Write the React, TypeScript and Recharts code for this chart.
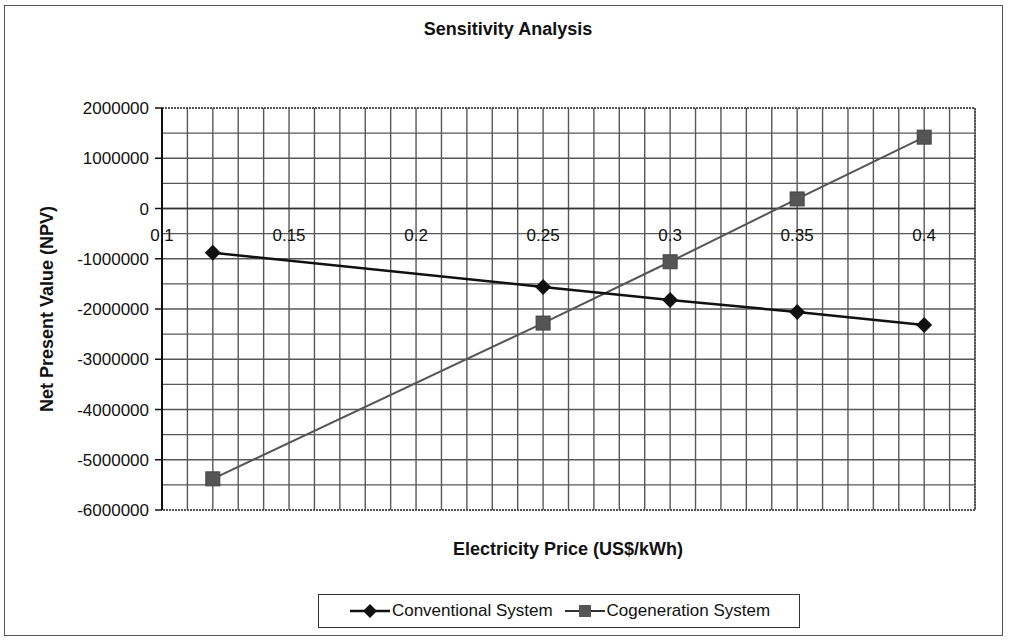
import React from "react";
import {
  CartesianGrid,
  Line,
  LineChart,
  ReferenceArea,
  ReferenceDot,
  ReferenceLine,
  XAxis,
  YAxis
} from "recharts";

// electricity price (US$/kWh)
const prices = [0.12, 0.25, 0.3, 0.35, 0.4];
// NPV values
const conventional = [-880000, -1560000, -1820000, -2060000, -2320000];
const cogeneration = [-5380000, -2280000, -1060000, 190000, 1420000];

const xTicks = [0.1, 0.15, 0.2, 0.25, 0.3, 0.35, 0.4];
const yTicks = [-6000000, -5000000, -4000000, -3000000, -2000000, -1000000, 0, 1000000, 2000000];

// grid every 0.01 on x and every 500000 on y
const xGrid: number[] = [];
for (let i = 11; i <= 41; i++) xGrid.push(i / 100);
const yGrid: number[] = [];
for (let i = -11; i <= 3; i++) yGrid.push(i * 500000);

const data = prices.map((p, i) => ({
  price: p,
  conventional: conventional[i],
  cogeneration: cogeneration[i]
}));

const FONT = "'Liberation Sans', Arial, sans-serif";
const X_DOMAIN = [0.1, 0.42];
const Y_DOMAIN = [-6000000, 2000000];
const GRID = "#585858";

const Diamond = (props: any) => {
  const { cx, cy } = props;
  if (cx == null || cy == null) return null;
  const r = 8;
  return (
    <polygon
      points={`${cx},${cy - r} ${cx + r},${cy} ${cx},${cy + r} ${cx - r},${cy}`}
      fill="#111"
    />
  );
};

const Square = (props: any) => {
  const { cx, cy } = props;
  if (cx == null || cy == null) return null;
  return <rect x={cx - 7} y={cy - 7} width={14} height={14} fill="#555" stroke="#444" />;
};

const LegendBox = () => (
  <div
    style={{
      position: "absolute",
      left: 318,
      top: 594,
      width: 482,
      height: 34,
      border: "1.5px solid #333",
      boxSizing: "border-box",
      display: "flex",
      alignItems: "center",
      justifyContent: "center",
      gap: 10,
      fontFamily: FONT,
      fontSize: 17,
      color: "#111",
      background: "#fff"
    }}
  >
    <span style={{ display: "flex", alignItems: "center" }}>
      <svg width={44} height={18}>
        <line x1={2} y1={9} x2={42} y2={9} stroke="#111" strokeWidth={2.5} />
        <polygon points="22,2 29,9 22,16 15,9" fill="#111" />
      </svg>
      Conventional System
    </span>
    <span style={{ display: "flex", alignItems: "center" }}>
      <svg width={44} height={18}>
        <line x1={2} y1={9} x2={42} y2={9} stroke="#333" strokeWidth={2} />
        <rect x={16} y={3} width={12} height={12} fill="#555" />
      </svg>
      Cogeneration System
    </span>
  </div>
);

export default function App() {
  return (
    <div
      style={{
        position: "absolute",
        left: 0,
        top: 0,
        width: 1016,
        height: 640,
        background: "#fff",
        fontFamily: FONT
      }}
    >
      <div
        style={{
          position: "absolute",
          left: 4,
          top: 5,
          width: 999,
          height: 631,
          border: "1.5px solid #555",
          boxSizing: "border-box"
        }}
      />
      <div
        style={{
          position: "absolute",
          top: 19,
          width: 1016,
          textAlign: "center",
          fontWeight: "bold",
          fontSize: 18,
          color: "#111"
        }}
      >
        Sensitivity Analysis
      </div>
      <div
        style={{
          position: "absolute",
          top: 539,
          left: 168,
          width: 800,
          textAlign: "center",
          fontWeight: "bold",
          fontSize: 18,
          color: "#111"
        }}
      >
        Electricity Price (US$/kWh)
      </div>
      <div
        style={{
          position: "absolute",
          left: 47,
          top: 309,
          transform: "translate(-50%, -50%) rotate(-90deg)",
          whiteSpace: "nowrap",
          fontWeight: "bold",
          fontSize: 18,
          color: "#111"
        }}
      >
        Net Present Value (NPV)
      </div>
      <div style={{ position: "absolute", left: 0, top: 0 }}>
        <LineChart
          width={1016}
          height={640}
          data={data}
          margin={{ top: 108, right: 41, bottom: 130, left: 12 }}
        >
          <XAxis
            xAxisId="grid"
            dataKey="price"
            type="number"
            domain={X_DOMAIN}
            ticks={xGrid}
            interval={0}
            hide
          />
          <CartesianGrid xAxisId="grid" horizontal={false} stroke={GRID} strokeWidth={1.4} />
          <XAxis
            dataKey="price"
            type="number"
            domain={X_DOMAIN}
            ticks={xTicks}
            tick={false}
            axisLine={false}
            tickLine={false}
            height={0}
          />
          <YAxis
            type="number"
            domain={Y_DOMAIN}
            ticks={yTicks}
            interval={0}
            width={150}
            axisLine={{ stroke: "#111", strokeWidth: 2 }}
            tickLine={{ stroke: "#111", strokeWidth: 1.5 }}
            tickSize={7}
            tickMargin={6}
            tick={{ fill: "#111", fontSize: 17, fontFamily: FONT }}
          />
          {yGrid.map(v => (
            <ReferenceLine key={"g" + v} y={v} stroke={GRID} strokeWidth={1.4} />
          ))}
          <ReferenceArea
            x1={0.1}
            x2={0.42}
            y1={-6000000}
            y2={2000000}
            fill="none"
            stroke="#555"
            strokeWidth={2}
            strokeDasharray="2 1"
            ifOverflow="visible"
          />
          <ReferenceLine y={0} stroke="#333" strokeWidth={1.6} />
          {xTicks.map(v => (
            <ReferenceDot
              key={v}
              x={v}
              y={0}
              r={0}
              fill="none"
              stroke="none"
              label={{
                value: String(v),
                position: "bottom",
                offset: 20,
                fill: "#111",
                fontSize: 17,
                fontFamily: FONT
              }}
            />
          ))}
          <Line
            dataKey="cogeneration"
            stroke="#555"
            strokeWidth={2}
            dot={<Square />}
            isAnimationActive={false}
          />
          <Line
            dataKey="conventional"
            stroke="#111"
            strokeWidth={2.5}
            dot={<Diamond />}
            isAnimationActive={false}
          />
        </LineChart>
      </div>
      <LegendBox />
    </div>
  );
}
